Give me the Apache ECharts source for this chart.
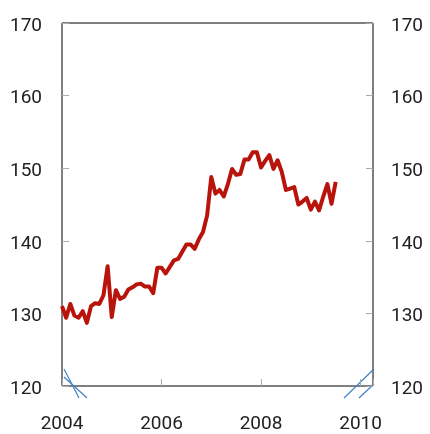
<!DOCTYPE html>
<html>
<head>
<meta charset="utf-8">
<script src="https://cdn.jsdelivr.net/npm/echarts@6/dist/echarts.min.js"></script>
<style>
html, body { margin: 0; padding: 0; background: #fff; }
#main { width: 430px; height: 434px; }
</style>
</head>
<body>
<div id="main"></div>
<script>
// monthly series, first point = Jan 2004
var startYear = 2004;
var values = [
	131.0, 129.4, 131.3, 129.7, 129.4, 130.3, 128.7, 131.0, 131.4, 131.3, 132.5, 136.5,
	129.5, 133.2, 132.0, 132.3, 133.3, 133.6, 134.0, 134.1, 133.7, 133.7, 132.8, 136.3,
	136.3, 135.5, 136.4, 137.3, 137.5, 138.5, 139.5, 139.5, 138.9, 140.2, 141.2, 143.5,
	148.8, 146.5, 147.0, 146.1, 147.8, 149.9, 149.1, 149.2, 151.2, 151.2, 152.2, 152.2,
	150.1, 151.0, 151.8, 149.9, 151.1, 149.5, 147.0, 147.2, 147.4, 145.0, 145.4, 145.9,
	144.3, 145.4, 144.2, 146.1, 147.8, 145.1, 148.1
];
var yTicks = [120, 130, 140, 150, 160, 170];
var xTicks = [2004, 2006, 2008, 2010];

var seriesData = [];
for (var i = 0; i < values.length; i++) {
	seriesData.push([startYear + i / 12, values[i]]);
}

var labelStyle = {
	fontFamily: 'Roboto',
	fontSize: 19,
	color: '#222'
};

var yAxisBase = function(pos, margin) {
	return {
		type: 'value',
		position: pos,
		min: yTicks[0],
		max: yTicks[yTicks.length - 1],
		interval: 10,
		axisLine: { show: false },
		axisTick: { show: true, inside: true, length: 7, lineStyle: { color: '#aaa' } },
		splitLine: { show: false },
		axisLabel: Object.assign({ margin: margin, verticalAlign: 'top', lineHeight: 6 }, labelStyle)
	};
};

var option = {
	animation: false,
	backgroundColor: '#fff',
	grid: {
		show: true,
		left: 62,
		right: 57,
		top: 23,
		bottom: 42,
		borderColor: '#000',
		borderWidth: 1,
		backgroundColor: 'transparent'
	},
	xAxis: {
		type: 'value',
		min: 2004,
		max: 2010.25,
		interval: 2,
		axisLine: { show: false },
		axisTick: { show: true, inside: true, length: 7, lineStyle: { color: '#aaa' } },
		splitLine: { show: false },
		axisLabel: Object.assign({
			margin: 29,
			formatter: function(v) {
				return xTicks.indexOf(v) >= 0 ? String(v) : '';
			}
		}, labelStyle)
	},
	yAxis: [yAxisBase('left', 20), yAxisBase('right', 18)],
	// axis break marks at the bottom corners
	graphic: [
		{ type: 'line', shape: { x1: 64, y1: 369, x2: 79, y2: 398 }, style: { stroke: '#4182c3', lineWidth: 1.2 } },
		{ type: 'line', shape: { x1: 64, y1: 377, x2: 87, y2: 398 }, style: { stroke: '#4182c3', lineWidth: 1.2 } },
		{ type: 'line', shape: { x1: 344, y1: 398, x2: 374, y2: 369 }, style: { stroke: '#4182c3', lineWidth: 1.2 } },
		{ type: 'line', shape: { x1: 359, y1: 398, x2: 374, y2: 384 }, style: { stroke: '#4182c3', lineWidth: 1.2 } }
	],
	series: [{
		type: 'line',
		data: seriesData,
		showSymbol: false,
		symbol: 'none',
		lineStyle: { color: '#b8140c', width: 4, join: 'round' }
	}]
};

var myChart = echarts.init(document.getElementById('main'));
myChart.setOption(option);
</script>
</body>
</html>
